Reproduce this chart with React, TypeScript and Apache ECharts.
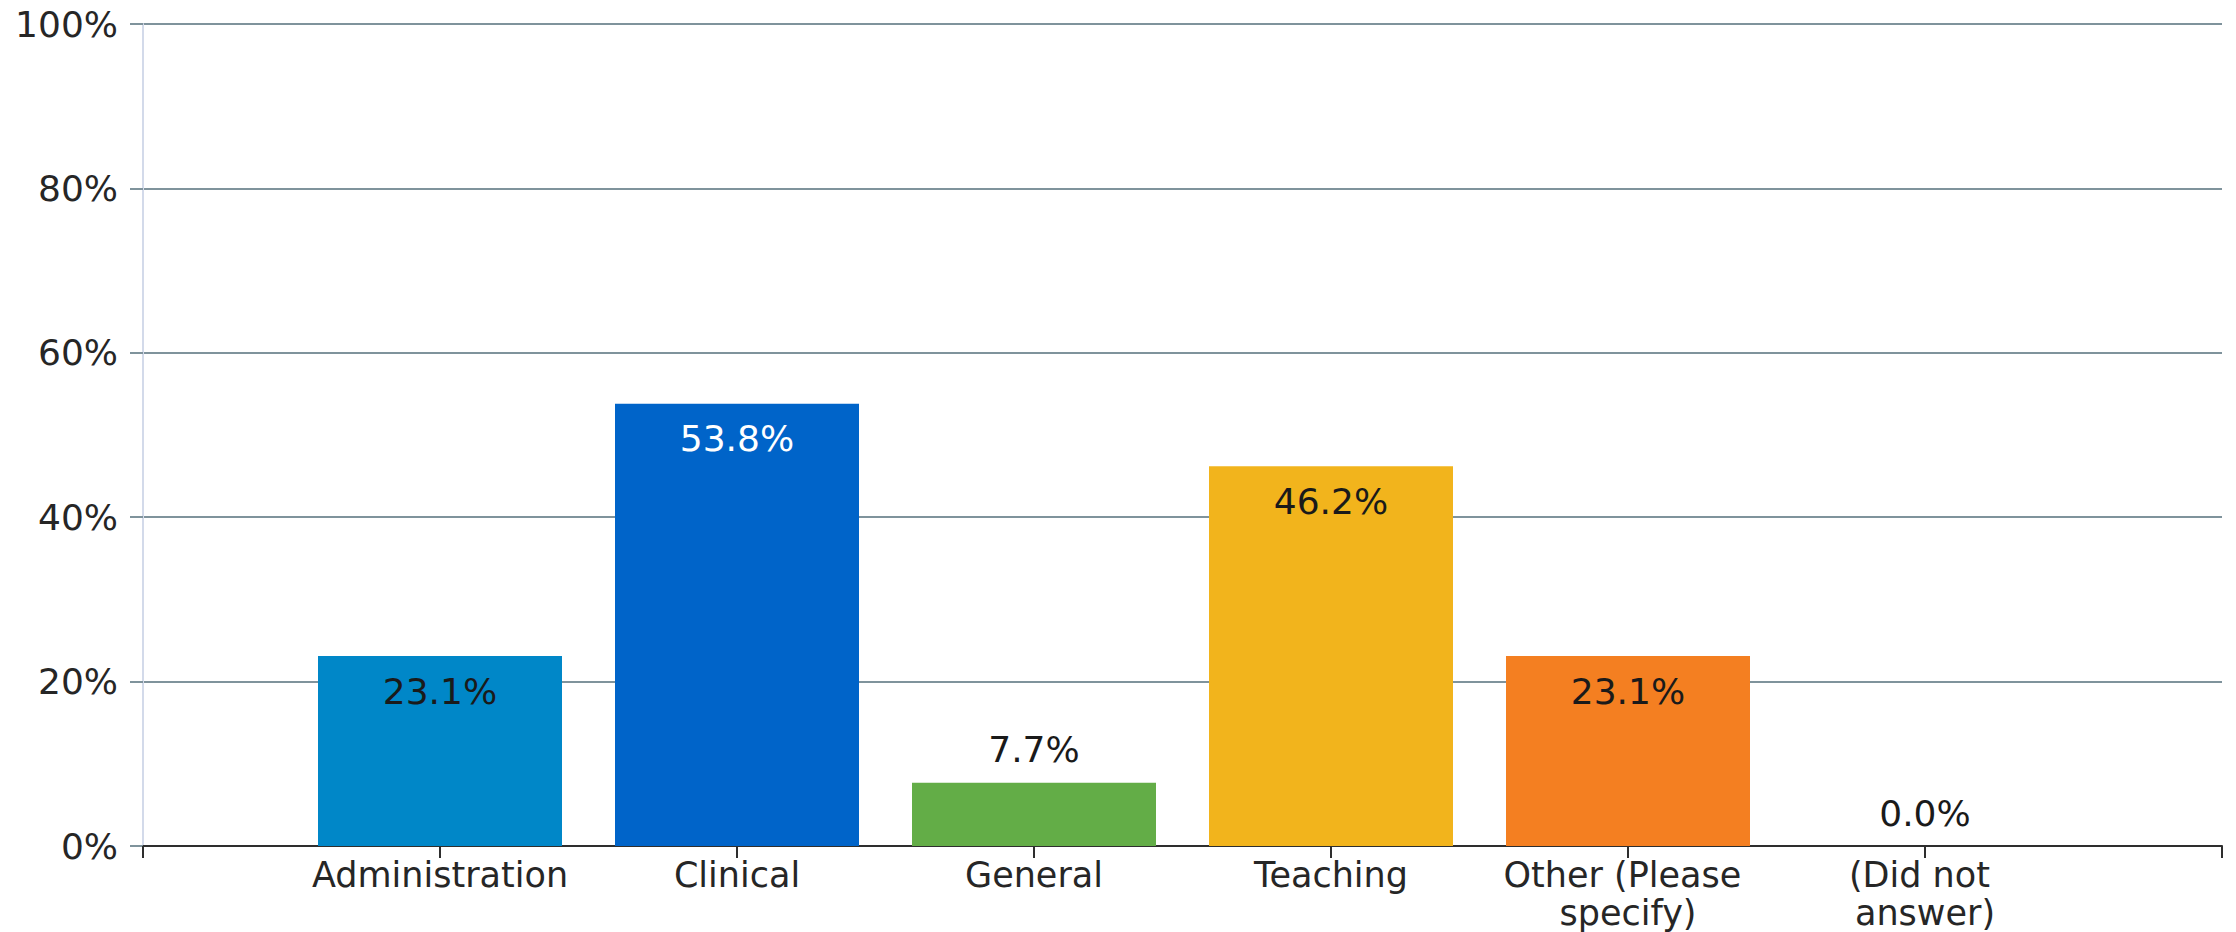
import React, { useEffect, useRef } from "react";
import * as echarts from "echarts";

const categories = [
  "Administration",
  "Clinical",
  "General",
  "Teaching",
  "Other (Please specify)",
  "(Did not answer)",
];
const values = [23.1, 53.8, 7.7, 46.2, 23.1, 0.0];
const barColors = ["#0087c8", "#0064c9", "#63ad47", "#f2b41c", "#f47f21", "#999999"];
const labelColors = ["#1a1a1a", "#ffffff", "#1a1a1a", "#1a1a1a", "#1a1a1a", "#1a1a1a"];
const yTicks = [0, 20, 40, 60, 80, 100];

const FONT = "DejaVu Sans";
const FS = 36;

export default function App() {
  const ref = useRef<HTMLDivElement>(null);

  useEffect(() => {
    document.body.style.margin = "0";
    if (!ref.current) return;
    const chart = echarts.init(ref.current, undefined, { renderer: "svg" });
    const option = {
      animation: false,
      backgroundColor: "#ffffff",
      grid: {
        left: 143,
        right: 14,
        top: 24,
        bottom: 86,
        containLabel: false,
        outerBoundsMode: "none",
      },
      xAxis: {
        type: "value",
        min: 0,
        max: categories.length + 1,
        interval: 1,
        splitLine: { show: false },
        axisLine: { show: true, lineStyle: { color: "#2e2e2e", width: 2 } },
        axisTick: { show: true, length: 12, lineStyle: { color: "#2e2e2e", width: 2 } },
        axisLabel: {
          show: true,
          margin: 10,
          fontFamily: FONT,
          fontSize: 35,
          lineHeight: 38,
          color: "#262626",
          width: 282,
          overflow: "break",
          showMinLabel: true,
          showMaxLabel: true,
          formatter: (v: number) => categories[v - 1] ?? "",
        },
      },
      yAxis: {
        type: "value",
        min: yTicks[0],
        max: yTicks[yTicks.length - 1],
        interval: 20,
        axisLine: { show: true, lineStyle: { color: "#d3daea", width: 2 } },
        axisTick: { show: true, length: 13, lineStyle: { color: "#7f939c", width: 2 } },
        splitLine: { show: true, lineStyle: { color: "#7f939c", width: 2 } },
        axisLabel: {
          margin: 25,
          fontFamily: FONT,
          fontSize: FS,
          color: "#262626",
          formatter: "{value}%",
        },
      },
      series: [
        {
          type: "bar",
          barWidth: 244,
          data: values.map((v, i) => ({
            value: [i + 1, v],
            itemStyle: { color: barColors[i] },
            label: {
              show: true,
              position: v < 15 ? "top" : "insideTop",
              distance: v < 15 ? 15 : 17,
              color: labelColors[i],
            },
          })),
          label: {
            show: true,
            fontFamily: FONT,
            fontSize: FS,
            formatter: (p: any) => `${p.value[1].toFixed(1)}%`,
          },
        },
      ],
    };
    chart.setOption(option as any);
    return () => chart.dispose();
  }, []);

  return <div ref={ref} style={{ width: 2236, height: 932 }} />;
}
